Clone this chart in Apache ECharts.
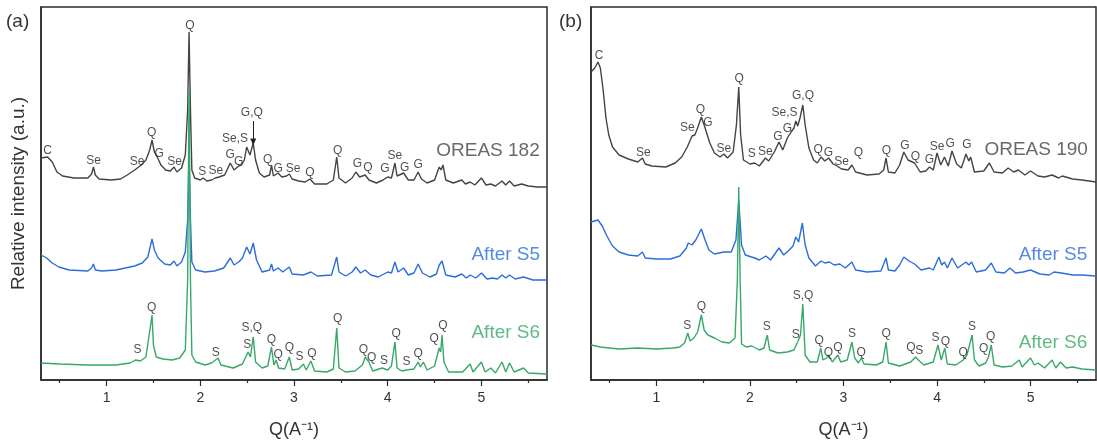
<!DOCTYPE html>
<html><head><meta charset="utf-8">
<script src="https://cdn.jsdelivr.net/npm/echarts@6/dist/echarts.min.js"></script>
<style>html,body{margin:0;padding:0;background:#fff}#c{width:1097px;height:445px}</style>
</head><body><div id="c"></div>
<script>
// ---------- DATA (Q in A^-1, intensity in a.u. incl. stacking offset) ----------
const qMajorTicks = [1, 2, 3, 4, 5];
const qMinorTicks = [0.5, 1.5, 2.5, 3.5, 4.5, 5.5];

const oreas182 = [[0.30,222],[0.37,223],[0.42,218],[0.47,208],[0.53,204],[0.65,202],[0.80,202],[0.84,206],[0.86,213],[0.88,205],[0.92,201],[1.05,200],[1.15,201],[1.22,205],[1.30,210],[1.37,215],[1.42,220],[1.46,230],[1.485,240],[1.51,228],[1.54,223],[1.58,215],[1.63,210],[1.68,209],[1.72,213],[1.75,208],[1.80,212],[1.84,225],[1.865,270],[1.88,348],[1.895,270],[1.91,210],[1.94,202],[2.00,200],[2.03,202],[2.07,199],[2.12,200],[2.16,202],[2.20,203],[2.26,205],[2.32,217],[2.36,210],[2.41,214],[2.44,215],[2.47,220],[2.495,233],[2.53,225],[2.565,237],[2.59,220],[2.63,207],[2.68,203],[2.74,205],[2.76,215],[2.78,204],[2.83,207],[2.87,203],[2.92,204],[2.95,206],[2.98,201],[3.05,199],[3.12,198],[3.17,201],[3.22,196],[3.35,196],[3.42,200],[3.456,223],[3.48,202],[3.55,197],[3.62,202],[3.66,208],[3.70,203],[3.76,205],[3.80,200],[3.88,197],[3.95,200],[4.00,203],[4.04,202],[4.077,217],[4.10,204],[4.17,207],[4.22,200],[4.28,200],[4.325,208],[4.36,201],[4.42,197],[4.50,200],[4.55,213],[4.57,210],[4.59,215],[4.62,200],[4.70,197],[4.79,200],[4.83,196],[4.88,198],[4.93,195],[5.00,202],[5.05,195],[5.10,196],[5.15,194],[5.22,199],[5.26,195],[5.30,199],[5.35,194],[5.43,196],[5.50,194],[5.60,193],[5.70,193]];

const a_afterS5 = [[0.30,125],[0.36,122],[0.42,117],[0.49,113],[0.60,110],[0.80,109],[0.84,112],[0.86,116],[0.88,110],[0.95,109],[1.10,110],[1.20,112],[1.30,114],[1.38,117],[1.44,123],[1.485,141],[1.51,130],[1.55,122],[1.62,116],[1.68,115],[1.72,119],[1.75,114],[1.80,118],[1.84,128],[1.865,160],[1.88,230],[1.895,160],[1.91,118],[1.95,110],[2.05,108],[2.15,109],[2.25,112],[2.32,122],[2.36,115],[2.41,118],[2.45,122],[2.495,133],[2.53,126],[2.565,137],[2.60,120],[2.66,108],[2.74,110],[2.76,116],[2.78,109],[2.83,112],[2.88,108],[2.95,113],[2.98,106],[3.10,105],[3.18,108],[3.25,104],[3.40,105],[3.456,123],[3.48,108],[3.55,104],[3.62,108],[3.66,113],[3.71,107],[3.76,110],[3.82,105],[3.90,103],[4.00,108],[4.04,107],[4.077,118],[4.11,108],[4.17,112],[4.22,105],[4.28,107],[4.325,116],[4.37,107],[4.45,103],[4.52,106],[4.55,115],[4.58,119],[4.62,105],[4.72,103],[4.79,106],[4.84,102],[4.88,105],[4.94,102],[5.00,107],[5.06,101],[5.12,102],[5.17,101],[5.22,105],[5.26,102],[5.30,105],[5.36,101],[5.45,103],[5.55,100],[5.70,100]];

const a_afterS6 = [[0.30,17],[0.50,16],[0.80,15],[1.10,15],[1.25,17],[1.31,20],[1.33,21],[1.36,19],[1.42,23],[1.485,65],[1.50,35],[1.53,23],[1.60,21],[1.70,20],[1.78,22],[1.84,30],[1.865,100],[1.88,292],[1.895,100],[1.91,25],[1.95,18],[2.05,15],[2.12,17],[2.19,22],[2.22,15],[2.35,12],[2.45,16],[2.51,28],[2.535,23],[2.565,43],[2.59,18],[2.66,12],[2.72,14],[2.76,33],[2.785,15],[2.81,20],[2.835,12],[2.90,11],[2.95,23],[2.98,10],[3.05,11],[3.10,16],[3.13,10],[3.18,19],[3.22,9],[3.35,8],[3.42,11],[3.456,52],[3.48,12],[3.55,8],[3.65,9],[3.73,15],[3.76,23],[3.80,18],[3.84,9],[3.94,12],[4.00,10],[4.04,14],[4.077,38],[4.10,12],[4.15,9],[4.20,10],[4.28,11],[4.325,18],[4.35,13],[4.38,18],[4.42,10],[4.50,14],[4.55,32],[4.565,28],[4.58,45],[4.60,18],[4.65,8],[4.80,8],[4.88,16],[4.91,8],[5.00,18],[5.04,8],[5.10,12],[5.15,7],[5.22,18],[5.26,8],[5.30,17],[5.35,8],[5.45,12],[5.50,7],[5.70,6]];

const oreas190 = [[0.30,308],[0.34,312],[0.375,318],[0.40,312],[0.43,290],[0.46,262],[0.49,245],[0.53,233],[0.60,225],[0.70,221],[0.80,218],[0.85,222],[0.88,216],[0.95,214],[1.10,213],[1.20,217],[1.27,223],[1.33,233],[1.38,244],[1.41,245],[1.44,252],[1.48,263],[1.51,255],[1.53,253],[1.57,237],[1.62,227],[1.68,223],[1.72,226],[1.76,222],[1.82,228],[1.855,255],[1.88,293],[1.90,245],[1.93,220],[2.00,216],[2.05,217],[2.10,214],[2.165,222],[2.20,219],[2.26,228],[2.31,238],[2.35,230],[2.40,242],[2.44,248],[2.47,252],[2.49,259],[2.51,254],[2.535,262],[2.565,275],[2.59,255],[2.63,232],[2.68,220],[2.72,217],[2.76,223],[2.80,219],[2.84,222],[2.89,216],[2.93,214],[2.98,211],[3.05,210],[3.09,215],[3.13,208],[3.25,205],[3.38,206],[3.43,210],[3.455,222],[3.48,208],[3.55,207],[3.60,215],[3.645,228],[3.69,220],[3.76,217],[3.82,208],[3.88,209],[3.92,213],[3.96,210],[4.00,227],[4.04,215],[4.08,223],[4.12,214],[4.16,229],[4.21,216],[4.26,212],[4.31,226],[4.34,219],[4.36,223],[4.40,208],[4.50,209],[4.56,217],[4.61,208],[4.70,207],[4.76,212],[4.82,208],[4.87,210],[4.94,205],[5.00,209],[5.08,204],[5.15,203],[5.23,205],[5.30,202],[5.34,204],[5.45,201],[5.55,200],[5.70,198]];

const b_afterS5 = [[0.30,158],[0.375,160],[0.42,154],[0.47,144],[0.53,134],[0.60,128],[0.70,125],[0.80,124],[0.85,128],[0.88,122],[1.00,121],[1.15,121],[1.25,124],[1.32,132],[1.34,137],[1.38,135],[1.42,140],[1.48,151],[1.52,140],[1.56,130],[1.62,126],[1.72,128],[1.80,128],[1.85,140],[1.88,180],[1.91,135],[1.95,125],[2.05,122],[2.10,120],[2.17,124],[2.22,120],[2.31,132],[2.36,125],[2.42,130],[2.46,134],[2.49,143],[2.52,138],[2.56,157],[2.59,135],[2.63,122],[2.70,114],[2.76,119],[2.80,117],[2.85,118],[2.90,115],[2.96,116],[3.02,112],[3.09,118],[3.13,110],[3.25,108],[3.40,109],[3.455,122],[3.48,110],[3.55,109],[3.60,115],[3.645,123],[3.70,119],[3.76,116],[3.83,110],[3.92,112],[3.96,110],[4.02,123],[4.05,115],[4.08,118],[4.11,112],[4.16,122],[4.22,112],[4.31,118],[4.34,115],[4.37,118],[4.42,108],[4.52,110],[4.58,117],[4.63,108],[4.72,107],[4.78,112],[4.84,107],[4.92,108],[5.00,110],[5.10,106],[5.20,105],[5.25,108],[5.33,107],[5.45,105],[5.55,105],[5.70,104]];

const b_afterS6 = [[0.30,35],[0.40,33],[0.60,31],[0.80,32],[1.00,31],[1.18,32],[1.25,33],[1.30,37],[1.335,47],[1.36,39],[1.40,42],[1.44,48],[1.48,65],[1.51,50],[1.55,45],[1.62,42],[1.70,38],[1.78,37],[1.84,42],[1.865,100],[1.88,193],[1.895,100],[1.91,36],[1.96,33],[2.02,34],[2.10,30],[2.15,32],[2.185,45],[2.21,30],[2.30,27],[2.40,28],[2.47,30],[2.51,38],[2.54,45],[2.565,76],[2.59,25],[2.64,18],[2.72,18],[2.757,32],[2.78,20],[2.82,22],[2.84,25],[2.88,18],[2.94,25],[2.97,18],[3.04,20],[3.09,38],[3.12,22],[3.16,17],[3.19,22],[3.22,16],[3.35,15],[3.42,18],[3.455,38],[3.48,17],[3.60,14],[3.72,18],[3.77,23],[3.80,20],[3.86,15],[3.96,18],[4.01,35],[4.045,20],[4.083,32],[4.11,16],[4.20,15],[4.28,20],[4.32,25],[4.375,45],[4.40,20],[4.45,14],[4.52,17],[4.55,23],[4.58,35],[4.61,15],[4.70,13],[4.80,14],[4.88,20],[4.91,13],[5.00,22],[5.04,15],[5.08,17],[5.15,12],[5.23,20],[5.27,12],[5.32,18],[5.38,12],[5.45,13],[5.55,11],[5.70,10]];

// peak annotations: [Q, height, text]
const a_grayLabels = [[0.37,229,'C'],[0.86,219,'Se'],[1.326,218,'Se'],[1.48,247,'Q'],[1.56,226,'G'],[1.726,218,'Se'],[1.89,354,'Q'],[2.02,208,'S'],[2.165,209,'Se'],[2.32,225,'G'],[2.41,218,'G'],[2.37,241,'Se,S'],[2.55,267,'G,Q'],[2.72,220,'Q'],[2.83,211,'G'],[2.99,211,'Se'],[3.17,207,'Q'],[3.467,229,'Q'],[3.676,216,'G'],[3.79,212,'Q'],[3.97,211,'G'],[4.077,224,'Se'],[4.18,212,'G'],[4.325,215,'G']];
const a_greenLabels = [[1.33,30,'S'],[1.48,72,'Q'],[2.165,27,'S'],[2.50,35,'S'],[2.55,52,'S,Q'],[2.76,40,'Q'],[2.83,25,'Q'],[2.95,32,'Q'],[3.06,23,'S'],[3.19,26,'Q'],[3.467,61,'Q'],[3.74,30,'Q'],[3.83,22,'Q'],[3.96,19,'S'],[4.09,46,'Q'],[4.20,18,'S'],[4.325,26,'Q'],[4.496,41,'Q'],[4.59,54,'Q']];
const b_grayLabels = [[0.386,324,'C'],[0.86,227,'Se'],[1.33,252,'Se'],[1.47,270,'Q'],[1.55,257,'G'],[1.72,231,'Se'],[1.884,301,'Q'],[2.02,226,'S'],[2.165,228,'Se'],[2.30,243,'G'],[2.40,251,'G'],[2.37,267,'Se,S'],[2.567,284,'G,Q'],[2.73,230,'Q'],[2.84,227,'G'],[2.98,218,'Se'],[3.16,227,'Q'],[3.46,229,'Q'],[3.656,234,'G'],[3.77,223,'Q'],[3.92,220,'G'],[4.00,233,'Se'],[4.14,236,'G'],[4.32,235,'G']];
const b_greenLabels = [[1.33,54,'S'],[1.48,73,'Q'],[2.18,53,'S'],[2.49,45,'S'],[2.567,84,'S,Q'],[2.74,39,'Q'],[2.84,27,'Q'],[2.94,32,'Q'],[3.09,46,'S'],[3.19,27,'Q'],[3.455,46,'Q'],[3.72,32,'Q'],[3.81,29,'S'],[3.985,42,'S'],[4.09,38,'Q'],[4.28,27,'Q'],[4.375,53,'S'],[4.50,31,'Q'],[4.575,43,'Q']];
const a_arrow = [[2.565,259],[2.565,238]];

// sample names: [Q, height, text]
const a_names = [[5.07,229,'OREAS 182'],[5.26,125,'After S5'],[5.26,47,'After S6']];
const b_names = [[5.06,230,'OREAS 190'],[5.24,125,'After S5'],[5.24,37,'After S6']];

// ---------- STYLE ----------
const FONT = 'Liberation Sans, Arial, sans-serif';
const C_GRAY = '#444444', C_BLUE = '#2b6ddc', C_GREEN = '#37a867';
const AX = '#2b2b2b';

const grids = [
  {left: 41, width: 506, top: 7, height: 373},
  {left: 591, width: 505, top: 7, height: 373}
];

function xAxes(gi) {
  return [
    {type:'value', gridIndex: gi, position:'bottom', min:0.3, max:5.7,
     axisLine:{show:true, lineStyle:{color:AX, width:1.5}},
     axisTick:{show:true, length:6, lineStyle:{color:AX, width:1.2}, customValues: qMajorTicks},
     axisLabel:{show:true, margin:11, fontSize:14, color:'#333', fontFamily:FONT, customValues: qMajorTicks},
     splitLine:{show:false},
     name: 'Q(A\u207B\u00B9)', nameLocation:'middle', nameGap:41,
     nameTextStyle:{fontSize:18, color:'#333', fontFamily:FONT}},
    {type:'value', gridIndex: gi, position:'bottom', offset:0, min:0.3, max:5.7,
     axisLine:{show:false},
     axisTick:{show:true, length:3, lineStyle:{color:AX, width:1.2}, customValues: qMinorTicks},
     axisLabel:{show:false}, splitLine:{show:false}}
  ];
}
function yAxis(gi, name) {
  return {type:'value', gridIndex: gi, min:0, max:373,
    axisLine:{show:true, lineStyle:{color:AX, width:1.5}},
    axisTick:{show:false}, axisLabel:{show:false}, splitLine:{show:false},
    name: name || '', nameLocation:'middle', nameGap:13, nameRotate:90,
    nameTextStyle:{fontSize:19, color:'#333', fontFamily:FONT}};
}
function lineSeries(xi, yi, data, color) {
  return {type:'line', xAxisIndex: xi, yAxisIndex: yi, data: data, showSymbol:false, symbol:'none',
    lineStyle:{color: color, width:1.4}, silent:true, z:2};
}
function labelSeries(xi, yi, arr, size, colorFn) {
  return {type:'scatter', xAxisIndex: xi, yAxisIndex: yi, symbolSize:1, silent:true, z:5,
    itemStyle:{color:'rgba(0,0,0,0)'},
    data: arr.map(d => ({value:[d[0], d[1]], name:d[2], label:{color: colorFn(d)}})),
    label:{show:true, position:'inside', formatter:'{b}', fontSize:size, fontFamily:FONT}};
}

const series = [
  lineSeries(0, 0, oreas182, C_GRAY),
  lineSeries(0, 0, a_afterS5, C_BLUE),
  lineSeries(0, 0, a_afterS6, C_GREEN),
  lineSeries(2, 1, oreas190, C_GRAY),
  lineSeries(2, 1, b_afterS5, C_BLUE),
  lineSeries(2, 1, b_afterS6, C_GREEN),
  labelSeries(0, 0, a_grayLabels.concat(a_greenLabels), 12, () => '#1e1e1e'),
  labelSeries(2, 1, b_grayLabels.concat(b_greenLabels), 12, () => '#1e1e1e'),
  labelSeries(0, 0, a_names, 19, d => [C_GRAY, C_BLUE, C_GREEN][a_names.indexOf(d)]),
  labelSeries(2, 1, b_names, 19, d => [C_GRAY, C_BLUE, C_GREEN][b_names.indexOf(d)]),
  {type:'line', xAxisIndex:0, yAxisIndex:0, data: [], silent:true, z:4,
   markLine:{silent:true, symbol:['none','triangle'], symbolSize:[6,7], label:{show:false},
     lineStyle:{color:'#222', width:1, type:'solid'},
     data:[[{coord:a_arrow[0]},{coord:a_arrow[1]}]]}}
];

const chart = echarts.init(document.getElementById('c'), null, {renderer:'canvas'});
chart.setOption({
  animation:false,
  backgroundColor:'#fff',
  grid: grids.map(g => Object.assign({show:true, borderColor:AX, borderWidth:1.5, backgroundColor:'transparent'}, g)),
  xAxis: xAxes(0).concat(xAxes(1)),
  yAxis: [yAxis(0, 'Relative intensity (a.u.)'), yAxis(1)],
  series: series,
  graphic: [
    {type:'text', left:6, top:12, style:{text:'(a)', fontSize:19, fill:'#333', fontFamily:FONT}},
    {type:'text', left:559, top:12, style:{text:'(b)', fontSize:19, fill:'#333', fontFamily:FONT}}
  ]
});
</script></body></html>
